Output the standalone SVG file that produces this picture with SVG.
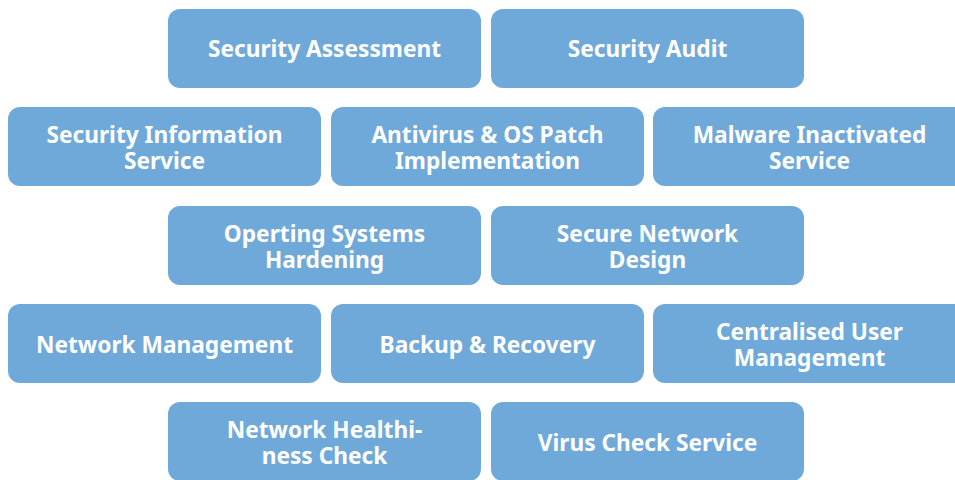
<svg xmlns="http://www.w3.org/2000/svg" width="955" height="480" viewBox="0 0 955 480">
<style>
.b{fill:#6fa9da}
.t{fill:#fff;font-family:"Noto Sans","Open Sans",sans-serif;font-weight:700;font-size:22.7px;text-anchor:middle}
</style>
<rect width="955" height="480" fill="#fff"/>
<g id="n1"><rect class="b" x="168" y="9" width="313" height="79" rx="12"/><text class="t" x="324.5" y="57">Security Assessment</text></g>
<g id="n2"><rect class="b" x="491" y="9" width="313" height="79" rx="12"/><text class="t" x="647.5" y="57">Security Audit</text></g>
<g id="n3"><rect class="b" x="8" y="107" width="313" height="79" rx="12"/><text class="t" x="164.5" y="143">Security Information</text><text class="t" x="164.5" y="169">Service</text></g>
<g id="n4"><rect class="b" x="331" y="107" width="313" height="79" rx="12"/><text class="t" x="487.5" y="143">Antivirus &amp; OS Patch</text><text class="t" x="487.5" y="169">Implementation</text></g>
<g id="n5"><rect class="b" x="653" y="107" width="313" height="79" rx="12"/><text class="t" x="809.5" y="143">Malware Inactivated</text><text class="t" x="809.5" y="169">Service</text></g>
<g id="n6"><rect class="b" x="168" y="206" width="313" height="79" rx="12"/><text class="t" x="324.5" y="242">Operting Systems</text><text class="t" x="324.5" y="268">Hardening</text></g>
<g id="n7"><rect class="b" x="491" y="206" width="313" height="79" rx="12"/><text class="t" x="647.5" y="242">Secure Network</text><text class="t" x="647.5" y="268">Design</text></g>
<g id="n8"><rect class="b" x="8" y="304" width="313" height="79" rx="12"/><text class="t" x="164.5" y="352.5">Network Management</text></g>
<g id="n9"><rect class="b" x="331" y="304" width="313" height="79" rx="12"/><text class="t" x="487.5" y="352.5">Backup &amp; Recovery</text></g>
<g id="n10"><rect class="b" x="653" y="304" width="313" height="79" rx="12"/><text class="t" x="809.5" y="340">Centralised User</text><text class="t" x="809.5" y="366">Management</text></g>
<g id="n11"><rect class="b" x="168" y="402" width="313" height="79" rx="12"/><text class="t" x="324.5" y="438">Network Healthi-</text><text class="t" x="324.5" y="464">ness Check</text></g>
<g id="n12"><rect class="b" x="491" y="402" width="313" height="79" rx="12"/><text class="t" x="647.5" y="450.5">Virus Check Service</text></g>
<g id="connectors"/>
</svg>
